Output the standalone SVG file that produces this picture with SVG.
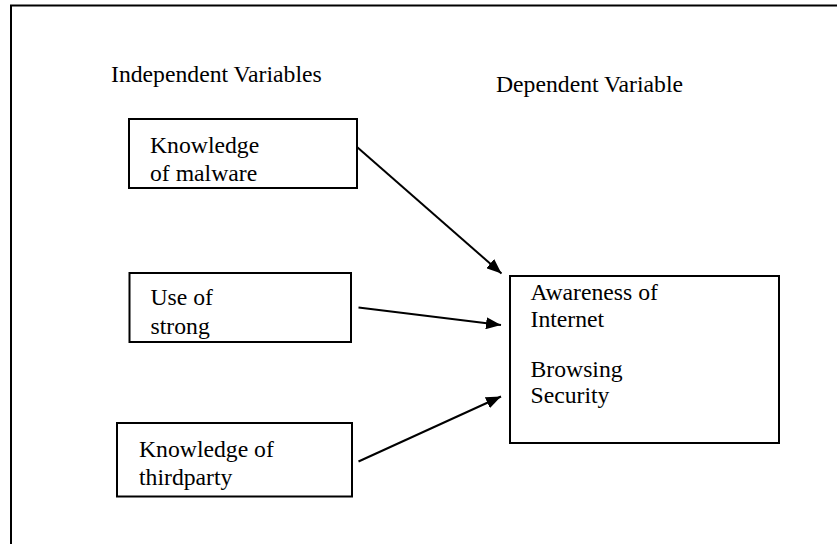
<svg xmlns="http://www.w3.org/2000/svg" width="837" height="544" viewBox="0 0 837 544">
<defs>
<marker id="arrow" markerUnits="userSpaceOnUse" markerWidth="16" markerHeight="12" viewBox="0 0 16 12" refX="15" refY="6" orient="auto">
<path d="M0,0 L15,6 L0,12 Z" fill="#000"/>
</marker>
<style>
.box{fill:#fff;stroke:#000;stroke-width:2}
.t{font-family:'Liberation Serif', Tinos, 'Times New Roman', 'DejaVu Serif', serif;font-size:23.7px;fill:#000}
.c{stroke:#000;stroke-width:2;fill:none;marker-end:url(#arrow)}
</style>
</defs>
<rect width="837" height="544" fill="#fff"/>
<g id="frame">
<path d="M11,544 V5.5 H837" fill="none" stroke="#000" stroke-width="2"/>
</g>
<g id="headers" font-family="Liberation Serif, serif">
<text class="t" x="111" y="82">Independent Variables</text>
<text class="t" x="496" y="92">Dependent Variable</text>
</g>
<g id="node-malware" font-family="Liberation Serif, serif">
<rect class="box" x="129" y="119" width="228" height="69"/>
<text class="t" x="150" y="152.5">Knowledge</text>
<text class="t" x="150" y="181">of malware</text>
</g>
<g id="node-strong" font-family="Liberation Serif, serif">
<rect class="box" x="129.5" y="273" width="221.5" height="69"/>
<text class="t" x="150.5" y="305">Use of</text>
<text class="t" x="150.5" y="334">strong</text>
</g>
<g id="node-thirdparty" font-family="Liberation Serif, serif">
<rect class="box" x="117" y="423" width="235" height="73.5"/>
<text class="t" x="139" y="456.5">Knowledge of</text>
<text class="t" x="139" y="485">thirdparty</text>
</g>
<g id="node-awareness" font-family="Liberation Serif, serif">
<rect class="box" x="510" y="276" width="269" height="167"/>
<text class="t" x="530.5" y="300">Awareness of</text>
<text class="t" x="530.5" y="326.5">Internet</text>
<text class="t" x="530.5" y="376.5">Browsing</text>
<text class="t" x="530.5" y="402.5">Security</text>
</g>
<g id="connectors">
<line class="c" x1="357" y1="147" x2="501.5" y2="273.5"/>
<line class="c" x1="358.5" y1="307.5" x2="501" y2="325"/>
<line class="c" x1="358.5" y1="461.5" x2="501" y2="396.5"/>
</g>
</svg>
